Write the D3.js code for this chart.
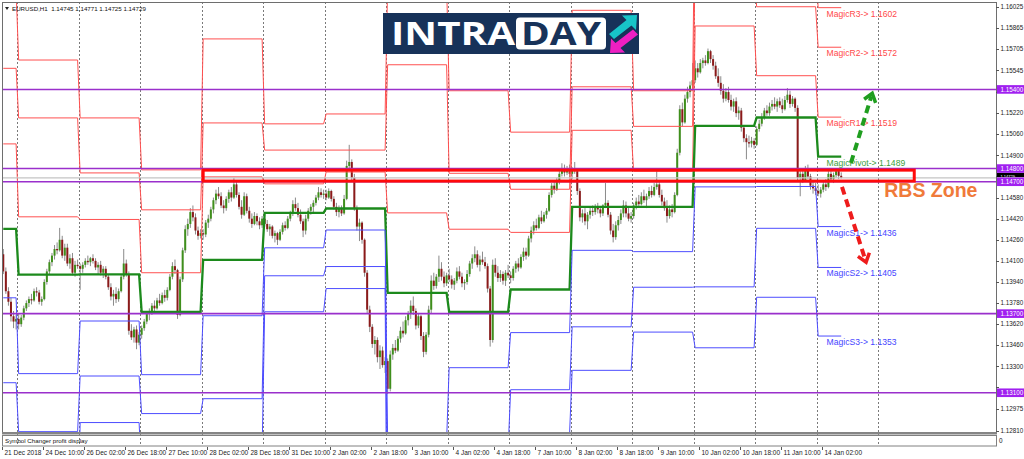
<!DOCTYPE html>
<html><head><meta charset="utf-8">
<script src="https://cdn.jsdelivr.net/npm/d3@7"></script>
<style>body{margin:0;background:#fff}svg{display:block}</style>
</head><body>
<svg id="c" width="1024" height="459"></svg>
<script>
// ---- DATA (prices in units of 0.00001 above 1.10000) ----
const BASE = 1.1;
const symbolHeader = "EURUSD,H1  1.14745 1.14771 1.14725 1.14729";
const candles = [
[4150,4190,4000,4020],[4020,4050,3850,3870],[3870,3900,3760,3790],[3790,3820,3640,3680],[3680,3720,3590,3640],[3640,3690,3580,3660],
[3660,3700,3580,3620],[3620,3690,3600,3670],[3670,3760,3650,3740],[3740,3800,3720,3780],[3780,3830,3750,3810],[3810,3850,3770,3800],
[3800,3890,3790,3870],[3870,3900,3830,3860],[3860,3880,3770,3790],[3790,3830,3760,3810],[3810,3960,3800,3940],[3940,4040,3920,4020],
[4020,4110,4000,4090],[4090,4160,4060,4140],[4140,4220,4110,4190],[4190,4240,4150,4180],[4180,4350,4170,4260],[4260,4290,4120,4140],
[4140,4230,4100,4200],[4200,4230,4060,4080],[4080,4150,4040,4120],[4120,4160,3990,4010],[4010,4100,3980,4070],[4070,4110,4040,4060],
[4060,4080,3880,4040],[4040,4090,4010,4070],[4070,4120,4050,4100],[4100,4140,4070,4090],[4090,4130,4060,4120],[4120,4150,4080,4100],
[4100,4120,4030,4050],[4050,4090,4000,4070],[4070,4100,3990,4010],[4010,4060,3970,4040],[4040,4060,3960,3980],[3980,4000,3880,3900],
[3900,3930,3800,3830],[3830,3880,3760,3850],[3850,3900,3780,3810],[3810,3890,3790,3870],[3870,4000,3860,3980],[3980,4190,3960,4080],
[4080,4110,3980,4000],[4000,4020,3540,3570],[3570,3620,3500,3520],[3520,3600,3480,3580],[3580,3610,3430,3480],[3480,3560,3460,3540],
[3540,3610,3510,3590],[3590,3660,3570,3640],[3640,3720,3620,3700],[3700,3740,3650,3720],[3720,3780,3690,3760],[3760,3800,3720,3740],
[3740,3820,3730,3800],[3800,3850,3760,3780],[3780,3860,3770,3840],[3840,3880,3790,3820],[3820,3900,3800,3880],[3880,4000,3870,3980],
[3980,4090,3960,4060],[4060,4110,4000,4030],[4030,4040,3660,3690],[3690,3980,3680,3960],[3960,4200,3940,4180],[4180,4370,4160,4340],
[4340,4420,4290,4380],[4380,4500,4350,4470],[4470,4520,4400,4430],[4430,4460,4300,4330],[4330,4360,4260,4290],[4290,4340,4270,4310],
[4310,4340,4260,4300],[4300,4410,4280,4390],[4390,4450,4350,4420],[4420,4510,4400,4490],[4490,4580,4460,4560],[4560,4640,4530,4610],
[4610,4660,4570,4590],[4590,4620,4500,4520],[4520,4560,4460,4500],[4500,4590,4480,4570],[4570,4640,4540,4620],[4620,4660,4550,4580],
[4580,4730,4570,4680],[4680,4700,4580,4600],[4600,4620,4490,4510],[4510,4560,4420,4450],[4450,4620,4440,4590],[4590,4610,4460,4480],
[4480,4510,4390,4420],[4420,4460,4350,4380],[4380,4470,4370,4440],[4440,4460,4370,4400],[4400,4430,4340,4370],[4370,4440,4350,4420],
[4420,4450,4360,4380],[4380,4410,4320,4340],[4340,4380,4290,4360],[4360,4370,4270,4290],[4290,4330,4240,4310],[4310,4320,4220,4260],
[4260,4340,4250,4320],[4320,4390,4300,4370],[4370,4400,4330,4350],[4350,4440,4340,4420],[4420,4480,4400,4460],[4460,4560,4440,4530],
[4530,4580,4480,4500],[4500,4540,4430,4450],[4450,4490,4380,4400],[4400,4420,4280,4330],[4330,4450,4300,4420],[4420,4500,4400,4480],
[4480,4530,4450,4510],[4510,4560,4470,4540],[4540,4600,4520,4580],[4580,4660,4560,4620],[4620,4650,4580,4600],[4600,4640,4570,4610],
[4610,4640,4560,4580],[4580,4650,4570,4630],[4630,4640,4550,4570],[4570,4590,4490,4510],[4510,4540,4440,4470],[4470,4520,4430,4500],
[4500,4520,4440,4460],[4460,4600,4450,4570],[4570,4860,4560,4820],[4820,4980,4790,4850],[4850,4870,4700,4730],[4730,4760,4480,4500],
[4500,4520,4330,4360],[4360,4420,4250,4390],[4390,4400,4230,4260],[4260,4270,3980,4010],[4010,4030,3700,3730],[3730,3760,3560,3600],
[3600,3620,3440,3470],[3470,3530,3390,3500],[3500,3520,3330,3370],[3370,3460,3280,3420],[3420,3450,3290,3310],[3310,3370,3250,3340],
[3340,3360,3090,3130],[3130,3420,3110,3390],[3390,3470,3350,3440],[3440,3500,3400,3420],[3420,3530,3410,3510],[3510,3600,3480,3570],
[3570,3640,3520,3550],[3550,3680,3540,3650],[3650,3720,3610,3700],[3700,3800,3660,3760],[3760,3830,3690,3720],[3720,3740,3580,3610],
[3610,3700,3590,3680],[3680,3690,3500,3530],[3530,3560,3370,3410],[3410,3560,3390,3540],[3540,3760,3520,3730],[3730,3990,3700,3950],
[3950,4010,3880,3910],[3910,4000,3890,3980],[3980,4140,3940,4040],[4040,4090,3950,3980],[3980,4020,3900,3930],[3930,4010,3910,3990],
[3990,4040,3940,3960],[3960,3990,3890,3920],[3920,3970,3880,3950],[3950,4050,3930,4020],[4020,4060,3960,3980],[3980,4010,3900,3930],
[3930,3960,3880,3940],[3940,4030,3920,4000],[4000,4100,3980,4080],[4080,4150,4040,4120],[4120,4210,4090,4150],[4150,4180,4050,4070],
[4070,4140,4020,4110],[4110,4170,4070,4090],[4090,4130,4040,4060],[4060,4080,3860,3890],[3890,3910,3450,3500],[3500,4110,3480,4070],
[4070,4120,3980,4010],[4010,4060,3940,3970],[3970,4030,3940,4000],[4000,4020,3920,3950],[3950,4030,3910,4010],[4010,4070,3970,3990],
[3990,4020,3930,3970],[3970,4060,3950,4040],[4040,4100,4010,4080],[4080,4120,4020,4050],[4050,4150,4040,4130],[4130,4200,4100,4170],
[4170,4200,4110,4140],[4140,4290,4130,4270],[4270,4360,4240,4330],[4330,4400,4300,4370],[4370,4420,4330,4350],[4350,4450,4340,4430],
[4430,4480,4380,4400],[4400,4470,4390,4450],[4450,4500,4420,4480],[4480,4620,4470,4600],[4600,4690,4580,4670],[4670,4710,4610,4640],
[4640,4730,4630,4710],[4710,4780,4680,4760],[4760,4840,4740,4800],[4800,4830,4740,4770],[4770,4820,4750,4790],[4790,4830,4730,4760],
[4760,4810,4720,4790],[4790,4850,4760,4780],[4780,4790,4600,4630],[4630,4650,4400,4430],[4430,4490,4390,4460],[4460,4500,4370,4400],
[4400,4470,4340,4450],[4450,4510,4420,4480],[4480,4520,4440,4470],[4470,4530,4450,4510],[4510,4540,4460,4490],[4490,4510,4430,4460],
[4460,4530,4440,4520],[4520,4690,4500,4540],[4540,4560,4430,4450],[4450,4470,4300,4330],[4330,4380,4240,4280],[4280,4400,4260,4370],
[4370,4440,4330,4410],[4410,4490,4380,4460],[4460,4560,4430,4520],[4520,4550,4430,4460],[4460,4500,4400,4420],[4420,4470,4390,4440],
[4440,4540,4420,4520],[4520,4580,4490,4550],[4550,4600,4510,4530],[4530,4620,4520,4590],[4590,4640,4540,4560],[4560,4610,4500,4590],
[4590,4660,4570,4630],[4630,4670,4580,4600],[4600,4690,4590,4660],[4660,4790,4640,4680],[4680,4700,4580,4600],[4600,4640,4520,4550],
[4550,4580,4480,4500],[4500,4560,4390,4440],[4440,4520,4420,4490],[4490,4530,4430,4470],[4470,4620,4460,4600],[4600,4950,4590,4920],
[4920,5280,4900,5250],[5250,5300,5120,5150],[5150,5360,5140,5330],[5330,5420,5300,5380],[5380,5460,5340,5430],[5430,5600,5410,5470],
[5470,5620,5450,5560],[5560,5600,5490,5530],[5530,5630,5520,5600],[5600,5640,5560,5620],[5620,5660,5580,5600],[5600,5710,5590,5690],
[5690,5700,5600,5630],[5630,5660,5550,5580],[5580,5610,5480,5500],[5500,5560,5420,5450],[5450,5500,5360,5390],[5390,5440,5300,5330],
[5330,5410,5310,5380],[5380,5420,5300,5320],[5320,5360,5240,5270],[5270,5330,5230,5310],[5310,5340,5190,5220],[5220,5270,5170,5240],
[5240,5260,5080,5110],[5110,5130,5000,5030],[5030,5060,4870,5000],[5000,5050,4960,4990],[4990,5040,4960,5010],[5010,5030,4950,4980],
[4980,5120,4970,5100],[5100,5170,5080,5140],[5140,5220,5120,5190],[5190,5260,5170,5240],[5240,5280,5200,5220],[5220,5300,5200,5270],
[5270,5320,5240,5290],[5290,5340,5250,5270],[5270,5330,5230,5310],[5310,5340,5260,5280],[5280,5330,5220,5250],[5250,5350,5240,5320],
[5320,5410,5300,5360],[5360,5390,5260,5290],[5290,5350,5270,5330],[5330,5340,5230,5260],[5260,5280,4700,4730],[4730,4800,4590,4760],
[4760,4790,4690,4710],[4710,4820,4700,4800],[4800,4830,4720,4740],[4740,4760,4640,4670],[4670,4700,4610,4650],[4650,4690,4600,4630],
[4630,4680,4590,4610],[4610,4660,4580,4640],[4640,4700,4620,4680],[4680,4720,4630,4660],[4660,4780,4650,4760],[4760,4790,4700,4720],
[4720,4770,4690,4750],[4750,4800,4730,4780],[4780,4790,4720,4745],[4745,4771,4725,4729]
];
// daily pivot levels (one value per trading day, day starts given as bar index)
const dayStart = [0,6,30,54,78,102,126,150,174,198,222,246,270,294,318];
const nextDayStart = 342;
const R3 = [6154,5623,5184,4790,5783,5139,5214,6194,5390,5076,6000,5390,7101,6344,6020];
const R2 = [5560,5184,4767,4487,5146,4940,4940,5587,4764,4643,5420,5120,6343,6027,5720];
const R1 = [4987,4434,4414,4010,4737,4684,4774,4464,4340,4316,5090,4780,5881,5504,5190];
const PV = [4343,3995,3997,3714,4108,4464,4497,3857,3714,3883,4510,4510,5123,5187,4890];
const S1 = [3820,3245,3644,3237,3684,4199,4334,2734,3290,3556,4180,4170,4661,4664,4360];
const S2 = [3176,2805,3227,2942,3055,3987,4057,2127,2664,3123,3600,3900,3903,4347,4050];
const S3 = [2654,2055,2874,2460,2646,3714,3890,1004,2240,2796,3270,3560,3441,3824,3530];
const pivotNames = ["MagicR3","MagicR2","MagicR1","MagicPivot","MagicS1","MagicS2","MagicS3"];
const pivotLabelValues = ["1.1602","1.1572","1.1519","1.1489","1.1436","1.1405","1.1353"];
const hLevels = [1.15400, 1.14800, 1.14700, 1.13700, 1.13100];
const bidPrice = 1.14729;
const priceTicks = [1.16025,1.15865,1.15705,1.15545,1.15380,1.15220,1.15060,1.14900,1.14740,1.14580,1.14420,1.14260,1.14100,1.13940,1.13780,1.13620,1.13460,1.13300,1.13140,1.12975,1.12810];
const timeLabels = [[0,"21 Dec 2018"],[16,"24 Dec 10:00"],[32,"26 Dec 02:00"],[48,"26 Dec 18:00"],[64,"27 Dec 10:00"],[80,"28 Dec 02:00"],[96,"28 Dec 18:00"],[112,"31 Dec 10:00"],[128,"2 Jan 02:00"],[144,"2 Jan 18:00"],[160,"3 Jan 10:00"],[176,"4 Jan 02:00"],[192,"4 Jan 18:00"],[208,"7 Jan 10:00"],[224,"8 Jan 02:00"],[240,"8 Jan 18:00"],[256,"9 Jan 10:00"],[272,"10 Jan 02:00"],[288,"10 Jan 18:00"],[304,"11 Jan 10:00"],[320,"14 Jan 02:00"]];
const zone = {from:78.5, to:356, top:4788, bottom:4705, label:"RBS Zone"};
const upArrow = {from:[331.3,4843], to:[339.6,5370]};
const downArrow = {from:[327.8,4661], to:[337.2,4090]};

// ---- LAYOUT ----
const W=1024,H=459,L=2,T=2,R=996,B=432;
const step=2.5625;
const P = v => BASE + v/1e5;
const x = d3.scaleLinear().domain([0,388]).range([L, L+388*step]);
const y = d3.scaleLinear().domain([1.16025,1.12810]).range([7,431]);
const svg = d3.select('#c');
const FONT = "'Liberation Sans', Arial, sans-serif";
svg.append('rect').attr('width',W).attr('height',H).attr('fill','#fff');
const defs = svg.append('defs');
defs.append('clipPath').attr('id','clip').append('rect')
  .attr('x',L).attr('y',T).attr('width',R-L).attr('height',B-T);

// period separators
const seps = dayStart.slice(1).concat([nextDayStart]);
svg.append('g').selectAll('line').data(seps).join('line')
  .attr('x1',d=>Math.round(x(d))+0.5).attr('x2',d=>Math.round(x(d))+0.5)
  .attr('y1',T).attr('y2',446).attr('stroke','#7a7a7a').attr('stroke-width',1).attr('stroke-dasharray','2,2');

const g = svg.append('g').attr('clip-path','url(#clip)');

// candles
const cg = g.append('g');
cg.selectAll('line.w').data(candles).join('line').attr('class','w')
  .attr('x1',(d,i)=>x(i+0.5)).attr('x2',(d,i)=>x(i+0.5))
  .attr('y1',d=>y(P(d[1]))).attr('y2',d=>y(P(d[2])))
  .attr('stroke','#8a8a8a').attr('stroke-width',1);
cg.selectAll('rect.b').data(candles).join('rect').attr('class','b')
  .attr('x',(d,i)=>x(i+0.5)-1).attr('width',2)
  .attr('y',d=>y(P(Math.max(d[0],d[3]))))
  .attr('height',d=>Math.max(1,Math.abs(y(P(d[0]))-y(P(d[3])))))
  .attr('fill',d=>d[3]>=d[0]?'#3f8f1c':'#8b1a1a');

// pivot step lines
const series = [
  {v:R3,c:'#ff5050',w:1,t:'#ff4a4a'},{v:R2,c:'#ff5050',w:1,t:'#ff4a4a'},{v:R1,c:'#ff5050',w:1,t:'#ff4a4a'},
  {v:PV,c:'#1c8a1c',w:2.3,t:'#3c9e3c'},
  {v:S1,c:'#4d4dff',w:1,t:'#4646ff'},{v:S2,c:'#4d4dff',w:1,t:'#4646ff'},{v:S3,c:'#4d4dff',w:1,t:'#4646ff'}];
const lastBar = candles.length;
const lineGen = d3.line();
series.forEach(s=>{
  const pts=[];
  dayStart.forEach((st,d)=>{
    const en = d<dayStart.length-1 ? dayStart[d+1] : lastBar;
    pts.push([x(st+0.5), y(P(s.v[d]))],[x(en-0.5), y(P(s.v[d]))]);
  });
  g.append('path').attr('d',lineGen(pts)).attr('fill','none')
    .attr('stroke',s.c).attr('stroke-width',s.w);
});

// bid line
g.append('line').attr('x1',L).attr('x2',R).attr('y1',y(bidPrice)).attr('y2',y(bidPrice))
  .attr('stroke','#c4c4c4').attr('stroke-width',1.3);
// horizontal purple levels
g.selectAll('line.h').data(hLevels).join('line').attr('class','h')
  .attr('x1',L).attr('x2',R).attr('y1',d=>y(d)).attr('y2',d=>y(d))
  .attr('stroke','#9a30cc').attr('stroke-width',1.6);

// RBS zone box
g.append('rect').attr('x',x(zone.from)).attr('width',x(zone.to)-x(zone.from))
  .attr('y',y(P(zone.top))).attr('height',y(P(zone.bottom))-y(P(zone.top)))
  .attr('fill','none').attr('stroke','#ff0a0a').attr('stroke-width',3);
svg.append('text').attr('x',x(zone.to)-30).attr('y',y(P(zone.bottom))+16)
  .attr('font-family',FONT).attr('font-weight','bold').attr('font-size',19.5)
  .attr('fill','#f07a3a').text(zone.label);

// pivot labels
series.forEach((s,k)=>{
  svg.append('text').attr('x',x(321.8)).attr('y',y(P(s.v[s.v.length-1]))+9)
    .attr('font-family',FONT).attr('font-size',8.6).attr('fill',s.t)
    .text(pivotNames[k]+"-> "+pivotLabelValues[k]);
});

// dashed arrows
function arrow(a,color){
  const x1=x(a.from[0]),y1=y(P(a.from[1])),x2=x(a.to[0]),y2=y(P(a.to[1]));
  const dx=x2-x1,dy=y2-y1,len=Math.hypot(dx,dy),ux=dx/len,uy=dy/len;
  const hl=8,hw=6;
  const bx=x2-ux*hl,by=y2-uy*hl;
  svg.append('line').attr('x1',x1).attr('y1',y1).attr('x2',x2-ux*3).attr('y2',y2-uy*3)
    .attr('stroke',color).attr('stroke-width',4).attr('stroke-dasharray','8,5');
  svg.append('path').attr('d',`M${bx-uy*hw},${by+ux*hw}L${x2},${y2}L${bx+uy*hw},${by-ux*hw}`)
    .attr('fill','none').attr('stroke',color).attr('stroke-width',3.5);
}
arrow(upArrow,'#1f9e1f');
arrow(downArrow,'#ee1c1c');

// frame
svg.append('rect').attr('x',L+0.5).attr('y',T+0.5).attr('width',R-L).attr('height',B-T)
  .attr('fill','none').attr('stroke','#6e6e6e').attr('stroke-width',1);
svg.append('rect').attr('x',L).attr('y',B).attr('width',R-L+1).attr('height',2.5).attr('fill','#858585');
svg.append('rect').attr('x',L+0.5).attr('y',435.5).attr('width',R-L).attr('height',10.5)
  .attr('fill','none').attr('stroke','#808080');
svg.append('text').attr('x',5).attr('y',443).attr('font-family',FONT).attr('font-size',6.2).attr('fill','#111')
  .text('Symbol Changer profit display');
svg.append('text').attr('x',999).attr('y',443).attr('font-family',FONT).attr('font-size',6.4).attr('fill','#111').text('0');

// right price axis (labels hidden under a price tag are not drawn)
const tagPrices = hLevels.concat([bidPrice]);
const visTicks = priceTicks.filter(p=>tagPrices.every(t=>Math.abs(y(p)-y(t))>5.5));
const ax = svg.append('g');
ax.selectAll('line').data(priceTicks).join('line')
  .attr('x1',R).attr('x2',R+3).attr('y1',d=>Math.round(y(d))+0.5).attr('y2',d=>Math.round(y(d))+0.5).attr('stroke','#555');
ax.selectAll('text').data(visTicks).join('text')
  .attr('x',R+4.5).attr('y',d=>y(d)+2.2).attr('font-family',FONT).attr('font-size',6.3).attr('fill','#222')
  .text(d=>d3.format('.5f')(d));

// bid price tag: only the strip between the two purple tags is visible
const bidTop = y(1.14800)+4.3, bidBot = y(1.14700)-4.3;
defs.append('clipPath').attr('id','bidclip').append('rect')
  .attr('x',R).attr('y',bidTop).attr('width',30).attr('height',bidBot-bidTop);
const bidG = svg.append('g').attr('clip-path','url(#bidclip)');
bidG.append('rect').attr('x',R+1).attr('y',bidTop).attr('width',27).attr('height',bidBot-bidTop).attr('fill','#000');
bidG.append('text').attr('x',R+4.5).attr('y',bidBot+0.4).attr('font-family',FONT).attr('font-size',4)
  .attr('fill','#fff').text(d3.format('.5f')(bidPrice));

function tag(p,bg){
  const yy=y(p);
  svg.append('rect').attr('x',R+1).attr('y',yy-4.3).attr('width',27).attr('height',8.6).attr('fill',bg);
  svg.append('text').attr('x',R+4.5).attr('y',yy+2.2).attr('font-family',FONT).attr('font-size',6.3)
    .attr('fill','#fff').text(d3.format('.5f')(p));
}
hLevels.forEach(p=>tag(p,'#a020f0'));

// time axis
const tx = svg.append('g');
tx.selectAll('line').data(timeLabels).join('line')
  .attr('x1',d=>Math.round(x(d[0]))+0.5).attr('x2',d=>Math.round(x(d[0]))+0.5)
  .attr('y1',447).attr('y2',450).attr('stroke','#555');
tx.selectAll('text').data(timeLabels).join('text')
  .attr('x',d=>x(d[0])+2.5).attr('y',455).attr('font-family',FONT).attr('font-size',6.5).attr('fill','#222')
  .text(d=>d[1]);

// header
svg.append('path').attr('d','M5,7L9,7L7,10Z').attr('fill','#222');
svg.append('text').attr('x',12).attr('y',11).attr('font-family',FONT).attr('font-size',6.2).attr('fill','#111')
  .attr('xml:space','preserve').text(symbolHeader);

// logo
const lg = svg.append('g');
lg.append('rect').attr('x',383).attr('y',13).attr('width',256).attr('height',41).attr('fill','#173259');
lg.append('text').attr('x',391).attr('y',45).attr('font-family',"'Open Sans', sans-serif").attr('font-weight',700)
  .attr('font-size',33).attr('fill','#fff').attr('textLength',124).attr('lengthAdjust','spacingAndGlyphs').text('INTRA');
lg.append('rect').attr('x',516).attr('y',17.5).attr('width',90).attr('height',32).attr('rx',4).attr('fill','#fff');
lg.append('text').attr('x',521).attr('y',45).attr('font-family',"'Open Sans', sans-serif").attr('font-weight',700)
  .attr('font-size',33).attr('fill','#173259').attr('textLength',80).attr('lengthAdjust','spacingAndGlyphs').text('DAY');
lg.append('path').attr('d','M637,15L636,30L631.5,25.5L614,39L609,34L626.5,20L622,15.5Z').attr('fill','#17c4c8');
lg.append('path').attr('d','M610,53L611,38.5L615.5,43L633,29.5L638,34.5L620.5,48L625,52.5Z').attr('fill','#ee1fc2');
</script>
</body></html>
